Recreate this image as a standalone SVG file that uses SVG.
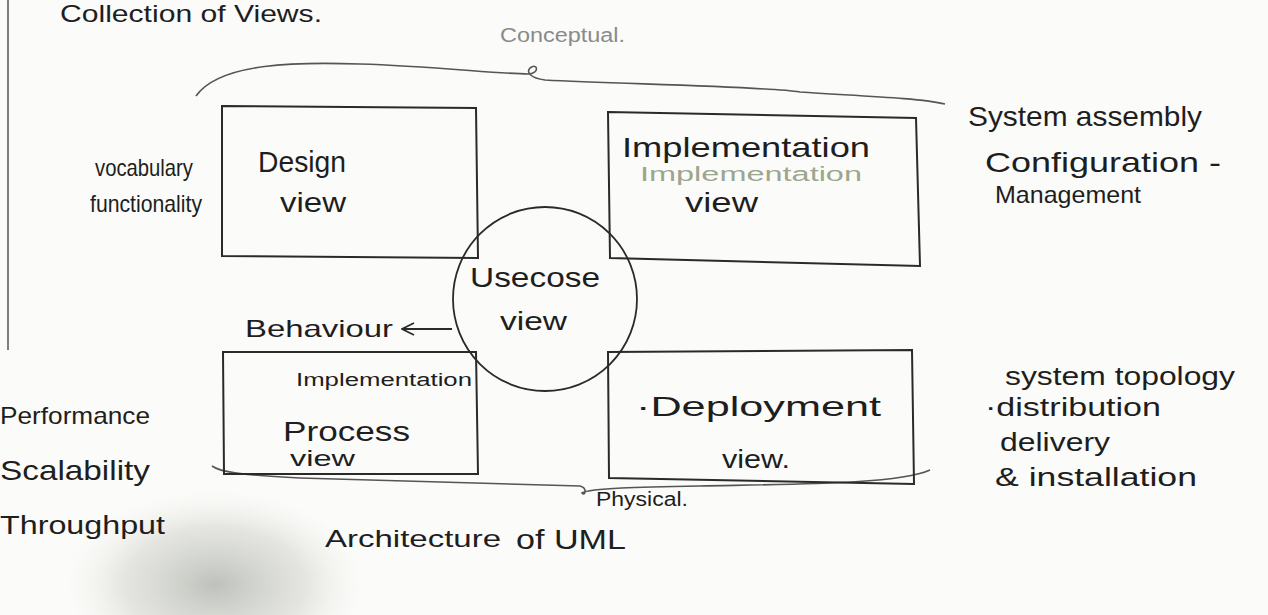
<svg xmlns="http://www.w3.org/2000/svg" width="1268" height="615" viewBox="0 0 1268 615">
<defs>
<style>
.t{font-family:"Liberation Sans","DejaVu Sans",sans-serif;fill:#1e1e1e}
.box{fill:none;stroke:#2a2a2a;stroke-width:2}
.brace{fill:none;stroke:#555;stroke-width:1.6}
.lite{fill:#8a8a8a}
</style>
<radialGradient id="stain" cx="0.5" cy="0.55" r="0.5">
<stop offset="0" stop-color="#8d9289" stop-opacity="0.55"/>
<stop offset="0.6" stop-color="#b9bcb2" stop-opacity="0.35"/>
<stop offset="1" stop-color="#e4e4de" stop-opacity="0"/>
</radialGradient>
<marker id="open" markerWidth="14" markerHeight="14" refX="13" refY="7" orient="auto" markerUnits="userSpaceOnUse">
<path d="M1,1 L13,7 L1,13" fill="none" stroke="#2a2a2a" stroke-width="1.8"/>
</marker>
</defs>
<rect width="1268" height="615" fill="#fbfbf9"/>
<ellipse cx="215" cy="575" rx="150" ry="95" fill="url(#stain)"/>
<line x1="8" y1="0" x2="8" y2="350" stroke="#555" stroke-width="1.5"/>

<text class="t" x="60" y="22" font-size="24" textLength="262" lengthAdjust="spacingAndGlyphs">Collection of Views.</text>
<text class="t lite" x="500" y="42" font-size="20" textLength="125" lengthAdjust="spacingAndGlyphs">Conceptual.</text>

<g id="connectors">
<path class="brace" d="M196,96 C220,62 300,62 360,64 C430,66 500,74 528,74 C540,74 538,62 530,68 C526,72 530,78 545,80 C620,84 760,86 800,92 C860,96 920,98 945,104"/>
<path class="brace" d="M212,466 C220,472 240,475 300,478 C420,482 540,484 580,486 C588,488 585,497 582,493 C590,488 640,487 700,486 C800,484 900,484 930,470"/>
<line x1="452" y1="329" x2="402" y2="329" stroke="#2a2a2a" stroke-width="1.8" marker-end="url(#open)"/>
</g>

<g id="design-view">
<path class="box" d="M222,106 L476,108 L478,258 L222,256 Z"/>
<text class="t" x="258" y="172" font-size="30" textLength="88" lengthAdjust="spacingAndGlyphs">Design</text>
<text class="t" x="280" y="212" font-size="28" textLength="66" lengthAdjust="spacingAndGlyphs">view</text>
</g>

<g id="implementation-view">
<path class="box" d="M608,112 L916,118 L920,266 L610,258 Z"/>
<text class="t" x="622" y="157" font-size="28" textLength="248" lengthAdjust="spacingAndGlyphs">Implementation</text>
<text x="640" y="181" font-size="20" textLength="222" lengthAdjust="spacingAndGlyphs" font-family="Liberation Sans, sans-serif" fill="#7d8a6a" opacity="0.75">Implementation</text>
<text class="t" x="685" y="212" font-size="28" textLength="73" lengthAdjust="spacingAndGlyphs">view</text>
</g>

<g id="usecase-view">
<circle cx="545" cy="299" r="92" fill="none" stroke="#2a2a2a" stroke-width="1.8"/>
<text class="t" x="470" y="287" font-size="28" textLength="130" lengthAdjust="spacingAndGlyphs">Usecose</text>
<text class="t" x="500" y="330" font-size="26" textLength="67" lengthAdjust="spacingAndGlyphs">view</text>
</g>

<g id="behaviour">
<text class="t" x="245" y="337" font-size="24" textLength="148" lengthAdjust="spacingAndGlyphs">Behaviour</text>
</g>

<g id="process-view">
<path class="box" d="M223,352 L476,352 L478,474 L224,474 Z"/>
<text class="t" x="296" y="386" font-size="18" textLength="176" lengthAdjust="spacingAndGlyphs">Implementation</text>
<text class="t" x="283" y="441" font-size="27" textLength="127" lengthAdjust="spacingAndGlyphs">Process</text>
<text class="t" x="290" y="466" font-size="22" textLength="65" lengthAdjust="spacingAndGlyphs">view</text>
</g>

<g id="deployment-view">
<path class="box" d="M608,352 L912,350 L914,484 L609,478 Z"/>
<text class="t" x="636" y="416" font-size="28" textLength="245" lengthAdjust="spacingAndGlyphs">·Deployment</text>
<text class="t" x="722" y="468" font-size="26" textLength="68" lengthAdjust="spacingAndGlyphs">view.</text>
</g>

<g id="left-notes">
<text class="t" x="95" y="176" font-size="24" textLength="98" lengthAdjust="spacingAndGlyphs">vocabulary</text>
<text class="t" x="90" y="212" font-size="24" textLength="112" lengthAdjust="spacingAndGlyphs">functionality</text>
<text class="t" x="0" y="424" font-size="24" textLength="150" lengthAdjust="spacingAndGlyphs">Performance</text>
<text class="t" x="0" y="480" font-size="28" textLength="150" lengthAdjust="spacingAndGlyphs">Scalability</text>
<text class="t" x="0" y="534" font-size="26" textLength="165" lengthAdjust="spacingAndGlyphs">Throughput</text>
</g>

<g id="right-notes">
<text class="t" x="968" y="126" font-size="28" textLength="234" lengthAdjust="spacingAndGlyphs">System assembly</text>
<text class="t" x="985" y="172" font-size="28" textLength="236" lengthAdjust="spacingAndGlyphs">Configuration -</text>
<text class="t" x="995" y="203" font-size="24" textLength="146" lengthAdjust="spacingAndGlyphs">Management</text>
<text class="t" x="1005" y="385" font-size="26" textLength="230" lengthAdjust="spacingAndGlyphs">system topology</text>
<text class="t" x="985" y="416" font-size="26" textLength="176" lengthAdjust="spacingAndGlyphs">·distribution</text>
<text class="t" x="1000" y="451" font-size="26" textLength="110" lengthAdjust="spacingAndGlyphs">delivery</text>
<text class="t" x="995" y="486" font-size="26" textLength="202" lengthAdjust="spacingAndGlyphs">&amp; installation</text>
</g>

<g id="caption">
<text class="t" x="596" y="506" font-size="20" textLength="92" lengthAdjust="spacingAndGlyphs">Physical.</text>
<text class="t" x="325" y="547" font-size="24" textLength="176" lengthAdjust="spacingAndGlyphs">Architecture</text>
<text class="t" x="516" y="549" font-size="28" textLength="110" lengthAdjust="spacingAndGlyphs">of UML</text>
</g>
</svg>
